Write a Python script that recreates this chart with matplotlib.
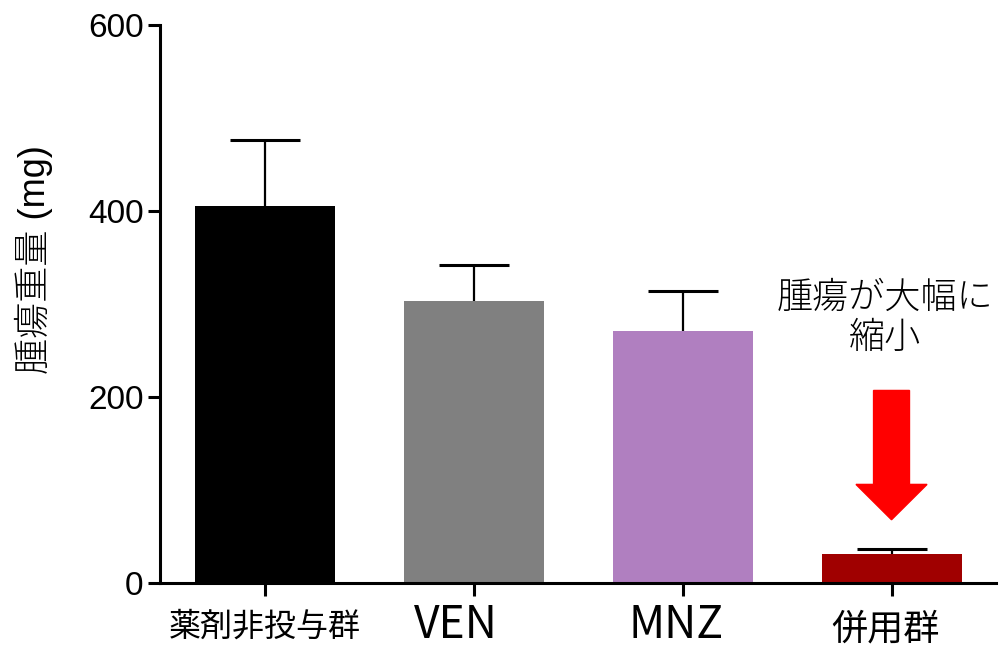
import matplotlib
matplotlib.use("Agg")
import matplotlib.pyplot as plt
from matplotlib.patches import FancyArrow

# データ
groups = ["薬剤非投与群", "VEN", "MNZ", "併用群"]
weights = [405, 303, 271, 31]        # 腫瘍重量 (mg)
errors = [71, 39, 43, 6]             # 上側の誤差
colors = ["#000000", "#808080", "#B07FC0", "#A00000"]
label_sizes = [23, 32, 32, 26]
label_shift = [(0, -28), (-18, -19), (-6, -19), (-6, -28)]   # ピクセル単位

jp = ["Noto Sans CJK JP", "DejaVu Sans"]
num = ["Liberation Sans", "Noto Sans CJK JP", "DejaVu Sans"]

fig = plt.figure(figsize=(10.01, 6.46), dpi=100)
ax = fig.add_axes([0.16, 0.0975, 0.835, 0.864])

x = range(len(groups))
ax.bar(x, weights, width=0.67, color=colors, zorder=2)
eb = ax.errorbar(x, weights, yerr=[[0] * len(errors), errors], fmt="none",
                 ecolor="black", elinewidth=1.6, capsize=25, capthick=2.2,
                 zorder=1)
# 下側のキャップは表示しない
eb[1][0].set_visible(False)

ax.set_xlim(-0.5, 3.5)
ax.set_ylim(0, 600)
ax.set_yticks([0, 200, 400, 600])
ax.set_xticks(list(x))
ax.set_xticklabels([])
# x軸ラベルは個別に配置
for i, (name, s, (dx, dy)) in enumerate(zip(groups, label_sizes, label_shift)):
    ax.annotate(name, xy=(i, 0), xycoords=("data", "axes fraction"),
                xytext=(dx, dy), textcoords="offset pixels",
                ha="center", va="top", family=jp, fontsize=s)
for lab in ax.get_yticklabels():
    lab.set_fontfamily(num)
    lab.set_fontsize(24)

for side in ["top", "right"]:
    ax.spines[side].set_visible(False)
for side in ["left", "bottom"]:
    ax.spines[side].set_linewidth(2.2)
ax.tick_params(axis="both", direction="out", length=9, width=2.2, pad=3)

ax.set_ylabel("腫瘍重量 (mg)", family=num, fontsize=26, fontweight="light")
ax.yaxis.set_label_coords(-0.128, 0.58)

# 矢印と注釈
arrow = FancyArrow(3, 207, 0, -139, width=0.172, head_width=0.34,
                   head_length=38, length_includes_head=True,
                   color="#FF0000", zorder=3)
ax.add_patch(arrow)
ax.text(2.97, 285, "腫瘍が大幅に\n縮小", family=jp, fontsize=26,
        fontweight="light", ha="center", va="center", linespacing=1.05)

fig.savefig("out.png", dpi=100)
